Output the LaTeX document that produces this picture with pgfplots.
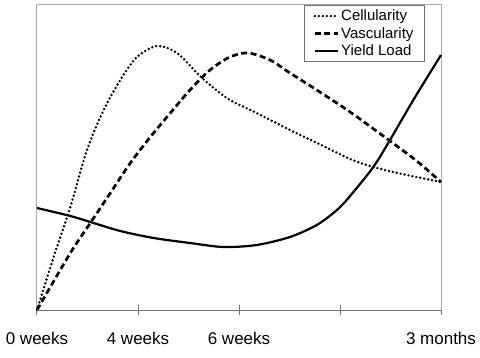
\documentclass[border=0pt]{standalone}
\usepackage{pgfplots}
\pgfplotsset{compat=1.18}
\usepackage{fontspec}
\setmainfont{Liberation Sans}
\definecolor{boxgray}{HTML}{A8A8A8}
\definecolor{axgray}{HTML}{707070}
\begin{document}
\begin{tikzpicture}
\path[use as bounding box] (0,0) rectangle (480pt,357pt);
\begin{axis}[
  at={(37pt,47pt)}, anchor=south west,
  scale only axis, width=404pt, height=306pt,
  xmin=0, xmax=4, ymin=0, ymax=306,
  axis line style={boxgray, line width=1pt},
  ytick=\empty,
  xtick={0,1,2,3,4},
  xticklabels={0 weeks,4 weeks,6 weeks,{},3 months},
  x tick style={axgray, line width=1pt},
  tick align=center,
  major tick length=10pt,
  xtick pos=bottom,
  ticklabel style={font=\fontsize{17}{20}\selectfont},
  xticklabel style={yshift=-14pt},
  /pgf/number format/assume math mode=true,
  clip=false,
  legend style={at={(0.96,0.997)}, anchor=north east, draw=axgray, line width=0.8pt,
    font=\fontsize{15}{17}\selectfont, inner xsep=9pt, inner ysep=2.5pt, row sep=1pt,
    /tikz/every even column/.append style={column sep=0pt}},
  legend cell align=left,
  legend image code/.code={\draw[#1] (0pt,0pt) -- (23pt,0pt);},
  after end axis/.code={\draw[axgray, line width=1pt] (rel axis cs:0,0) -- (rel axis cs:1,0);},
]
\addplot[black, line width=2.7pt, line cap=round, dash pattern=on 0pt off 4pt, smooth] coordinates {
(0,0) (0.165,53) (0.33,103) (0.495,160) (0.66,200) (0.825,230) (0.99,253) (1.19,264)
(1.386,257) (1.584,237) (1.713,225) (1.91,210) (2.175,197) (2.505,180) (2.835,164)
(3.1,151) (3.33,143) (3.66,135) (4,128)};
\addlegendentry{Cellularity}
\addplot[black, line width=2.7pt, dash pattern=on 6pt off 3.5pt, smooth] coordinates {
(0,0) (0.33,57) (0.528,87) (0.726,117) (0.924,147) (1.122,173) (1.32,197) (1.515,220)
(1.713,240) (1.91,253) (2.09,257) (2.307,250) (2.505,237) (2.77,220) (3.1,198)
(3.495,169) (3.76,149) (4,128)};
\addlegendentry{Vascularity}
\addplot[black, line width=2.2pt, smooth] coordinates {
(0,102) (0.33,94) (0.528,88) (0.825,79) (1.155,72) (1.515,67) (1.845,63) (2.175,65)
(2.505,73) (2.77,85) (2.97,100) (3.1,114) (3.33,143) (3.495,170) (3.726,210) (4,255)};
\addlegendentry{Yield Load}
\end{axis}
\end{tikzpicture}
\end{document}
